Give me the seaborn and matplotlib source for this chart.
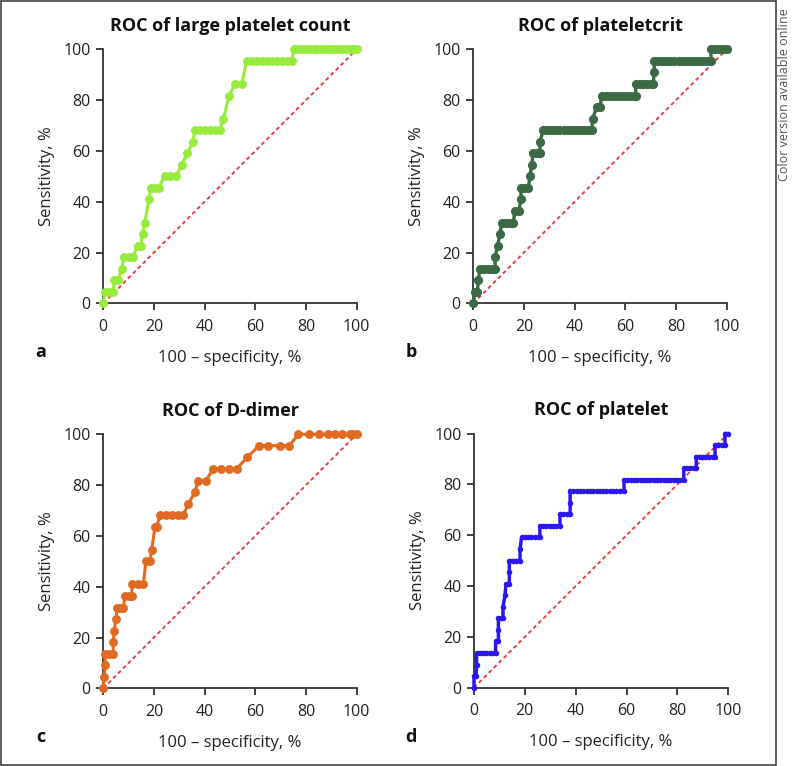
import matplotlib
matplotlib.use('Agg')
import matplotlib.pyplot as plt
import seaborn as sns
import pandas as pd

# ROC points (100 - specificity, sensitivity), in %
fpr_lpc = [0, 0.7, 2.2, 4.0, 4.2, 5.9, 7.2, 8.3, 10.0, 11.6, 13.5, 14.8, 15.5, 16.4, 18.0,
           18.7, 20.3, 21.9, 24.2, 26.5, 28.7, 30.9, 33.2, 35.3, 36.2, 38.2, 40.2, 42.2, 44.2,
           46.0, 47.4, 49.7, 52.0, 54.6, 56.6, 58.6, 60.6, 62.6, 64.6, 66.6, 68.6, 70.6, 72.6,
           74.3, 75.3, 77.0, 78.5, 80.0, 81.5, 83.0, 84.5, 86.0, 87.5, 89.0, 90.5, 92.0, 93.5,
           95.0, 96.5, 98.0, 99.0, 100]
tpr_lpc = [0, 4.5, 4.5, 4.5, 9.1, 9.1, 13.6, 18.2, 18.2, 18.2, 22.7, 22.7, 27.3, 31.8, 40.9,
           45.5, 45.5, 45.5, 50.0, 50.0, 50.0, 54.5, 59.1, 63.6, 68.2, 68.2, 68.2, 68.2, 68.2,
           68.2, 72.7, 81.8, 86.4, 86.4, 95.5, 95.5, 95.5, 95.5, 95.5, 95.5, 95.5, 95.5, 95.5,
           95.5, 100, 100, 100, 100, 100, 100, 100, 100, 100, 100, 100, 100, 100,
           100, 100, 100, 100, 100]

fpr_pct = [0, 0.7, 1.6, 2.0, 2.6, 4.2, 5.8, 7.4, 8.6, 8.6, 9.6, 10.5, 11.2, 12.8, 14.3, 15.8,
           16.4, 18.0, 18.8, 18.8, 20.2, 21.7, 22.4, 23.0, 23.7, 25.0, 26.3, 26.3, 27.6, 29.2,
           30.8, 32.4, 34.0, 35.6, 37.2, 38.8, 40.4, 42.0, 43.6, 45.2, 46.7, 47.1, 48.7, 50.0,
           50.7, 52.3, 53.9, 55.5, 57.1, 58.7, 60.3, 61.9, 63.5, 64.1, 64.1, 65.6, 67.1, 68.6,
           70.1, 71.0, 71.4, 71.4, 73.0, 74.6, 76.2, 77.8, 79.4, 81.0, 82.6, 84.2, 85.8, 87.4,
           89.0, 90.6, 92.2, 93.8, 93.8, 95.4, 97.0, 98.5, 100]
tpr_pct = [0, 4.5, 4.5, 9.1, 13.6, 13.6, 13.6, 13.6, 13.6, 18.2, 22.7, 27.3, 31.8, 31.8, 31.8, 31.8,
           36.4, 36.4, 40.9, 45.5, 45.5, 45.5, 50.0, 54.5, 59.1, 59.1, 59.1, 63.6, 68.2, 68.2,
           68.2, 68.2, 68.2, 68.2, 68.2, 68.2, 68.2, 68.2, 68.2, 68.2, 68.2, 72.7, 77.3, 77.3,
           81.8, 81.8, 81.8, 81.8, 81.8, 81.8, 81.8, 81.8, 81.8, 81.8, 86.4, 86.4, 86.4, 86.4,
           86.4, 86.4, 90.9, 95.5, 95.5, 95.5, 95.5, 95.5, 95.5, 95.5, 95.5, 95.5, 95.5, 95.5,
           95.5, 95.5, 95.5, 95.5, 100, 100, 100, 100, 100]

fpr_dd = [0, 0.3, 0.7, 0.7, 2.3, 3.9, 3.9, 4.3, 5.0, 5.5, 6.7, 7.9, 8.6, 10.0, 11.2, 11.4, 13.6,
          15.8, 16.8, 18.4, 19.1, 20.4, 21.0, 22.4, 24.7, 27.0, 29.3, 31.6, 33.6, 36.2, 37.5,
          40.5, 43.4, 46.5, 49.5, 52.6, 56.8, 61.4, 65.0, 69.7, 73.4, 77.0, 81.3, 85.3, 88.8,
          91.4, 94.1, 97.4, 98.7, 100]
tpr_dd = [0, 4.5, 9.1, 13.6, 13.6, 13.6, 18.2, 22.7, 27.3, 31.8, 31.8, 31.8, 36.4, 36.4, 36.4,
          40.9, 40.9, 40.9, 50.0, 50.0, 54.5, 63.6, 63.6, 68.2, 68.2, 68.2, 68.2, 68.2, 72.7,
          77.3, 81.8, 81.8, 86.4, 86.4, 86.4, 86.4, 90.9, 95.5, 95.5, 95.5, 95.5, 100, 100, 100,
          100, 100, 100, 100, 100, 100]

fpr_plt = [0, 0, 0.8, 1.0, 1.0, 2.3, 3.6, 4.9, 6.2, 7.5, 8.5, 8.5, 9.6, 9.6, 9.6, 10.5, 11.4,
           11.4, 12.2, 12.6, 13.9, 13.9, 13.9, 15.3, 16.7, 18.1, 18.1, 18.7, 20.0, 21.3, 22.6,
           23.9, 25.2, 25.9, 25.9, 27.2, 28.5, 29.8, 31.1, 32.4, 33.8, 33.8, 35.1, 36.4, 37.8,
           37.8, 37.8, 39.1, 40.4, 41.7, 43.0, 44.3, 45.6, 46.9, 48.2, 49.5, 50.8, 52.1, 53.4,
           54.7, 56.0, 57.3, 59.0, 59.0, 60.3, 61.6, 62.9, 64.2, 65.5, 66.8, 68.1, 69.4, 70.7,
           72.0, 73.3, 74.6, 75.9, 77.2, 78.5, 79.8, 81.1, 82.5, 82.5, 83.8, 85.1, 86.4, 87.4,
           87.4, 88.7, 90.0, 91.3, 92.6, 93.9, 94.8, 94.8, 96.1, 97.4, 98.7, 98.7, 100]
tpr_plt = [0, 4.5, 4.5, 9.1, 13.6, 13.6, 13.6, 13.6, 13.6, 13.6, 13.6, 18.2, 18.2, 22.7, 27.3,
           27.3, 27.3, 31.8, 36.4, 40.9, 40.9, 45.5, 50.0, 50.0, 50.0, 50.0, 54.5, 59.1, 59.1,
           59.1, 59.1, 59.1, 59.1, 59.1, 63.6, 63.6, 63.6, 63.6, 63.6, 63.6, 63.6, 68.2, 68.2,
           68.2, 68.2, 72.7, 77.3, 77.3, 77.3, 77.3, 77.3, 77.3, 77.3, 77.3, 77.3, 77.3, 77.3,
           77.3, 77.3, 77.3, 77.3, 77.3, 77.3, 81.8, 81.8, 81.8, 81.8, 81.8, 81.8, 81.8, 81.8,
           81.8, 81.8, 81.8, 81.8, 81.8, 81.8, 81.8, 81.8, 81.8, 81.8, 81.8, 86.4, 86.4, 86.4,
           86.4, 86.4, 90.9, 90.9, 90.9, 90.9, 90.9, 90.9, 90.9, 95.5, 95.5, 95.5, 95.5, 100,
           100]

titles = ['ROC of large platelet count', 'ROC of plateletcrit', 'ROC of D-dimer', 'ROC of platelet']
letters = ['a', 'b', 'c', 'd']
colors = ['#96ec3c', '#3b6a45', '#e06a22', '#2b17f2']
ticks = [0, 20, 40, 60, 80, 100]

sns.set_style('ticks')
plt.rcParams['font.family'] = ['Open Sans', 'DejaVu Sans']

W, H = 793, 766
fig = plt.figure(figsize=(W / 100, H / 100), dpi=100)

# axes boxes in pixels: left, right, top, bottom
boxes = [(103.3, 356.7, 49.3, 303.3), (473.3, 726.7, 49.3, 303.3),
         (103.3, 356.7, 434.3, 688.3), (474.0, 728.3, 433.5, 687.7)]
series = [(fpr_lpc, tpr_lpc), (fpr_pct, tpr_pct), (fpr_dd, tpr_dd), (fpr_plt, tpr_plt)]
msizes = [6.4, 6.6, 6.4, 4.0]
lwidths = [2.2, 2.4, 2.2, 2.5]

for i in range(4):
    l, r, t, b = boxes[i]
    ax = fig.add_axes([l / W, 1 - b / H, (r - l) / W, (b - t) / H])
    df = pd.DataFrame({'fpr': series[i][0], 'tpr': series[i][1]})
    ax.plot([0, 100], [0, 100], color='#e8403c', lw=1.4, ls=(0, (2, 1.6)), zorder=2)
    sns.lineplot(data=df, x='fpr', y='tpr', ax=ax, estimator=None, sort=False,
                 color=colors[i], lw=lwidths[i], marker='o', markersize=msizes[i],
                 markeredgewidth=0, clip_on=False, zorder=3)
    ax.set_xlim(0, 100)
    ax.set_ylim(0, 100)
    ax.set_xticks(ticks)
    ax.set_yticks(ticks)
    sns.despine(ax=ax)
    for s in ['left', 'bottom']:
        ax.spines[s].set_color('#333333')
        ax.spines[s].set_linewidth(1.3)
    ax.tick_params(axis='both', length=5, width=1.3, color='#333333', labelsize=11.5,
                   labelcolor='#222222', pad=4)
    ax.tick_params(axis='x', pad=6)
    ax.set_title(titles[i], fontsize=13, fontweight='bold', pad=13, color='#111111')
    ax.set_xlabel('100 – specificity, %', fontsize=12, labelpad=11, color='#222222')
    ax.set_ylabel('Sensitivity, %', fontsize=12, labelpad=6, color='#222222')
    lx = 41 if i % 2 == 0 else 411
    ly = 352 if i < 2 else 737
    fig.text(lx / W, 1 - ly / H, letters[i], fontsize=13, fontweight='bold',
             ha='center', va='center', color='#111111')

# frame around the figure and side note
fig.add_artist(plt.Line2D([1 / W, 776 / W], [1 - 1 / H, 1 - 1 / H], color='#444444', lw=1.2))
fig.add_artist(plt.Line2D([1 / W, 1 / W], [1 - 1 / H, 1 / H], color='#444444', lw=1.2))
fig.add_artist(plt.Line2D([776 / W, 776 / W], [1 - 1 / H, 1 / H], color='#444444', lw=1.2))
fig.add_artist(plt.Line2D([1 / W, 776 / W], [1 / H, 1 / H], color='#444444', lw=1.2))
fig.text(784 / W, 1 - 95 / H, 'Color version available online', rotation=90, fontsize=9,
         ha='center', va='center', color='#555555')

fig.savefig('out.png', dpi=100)
